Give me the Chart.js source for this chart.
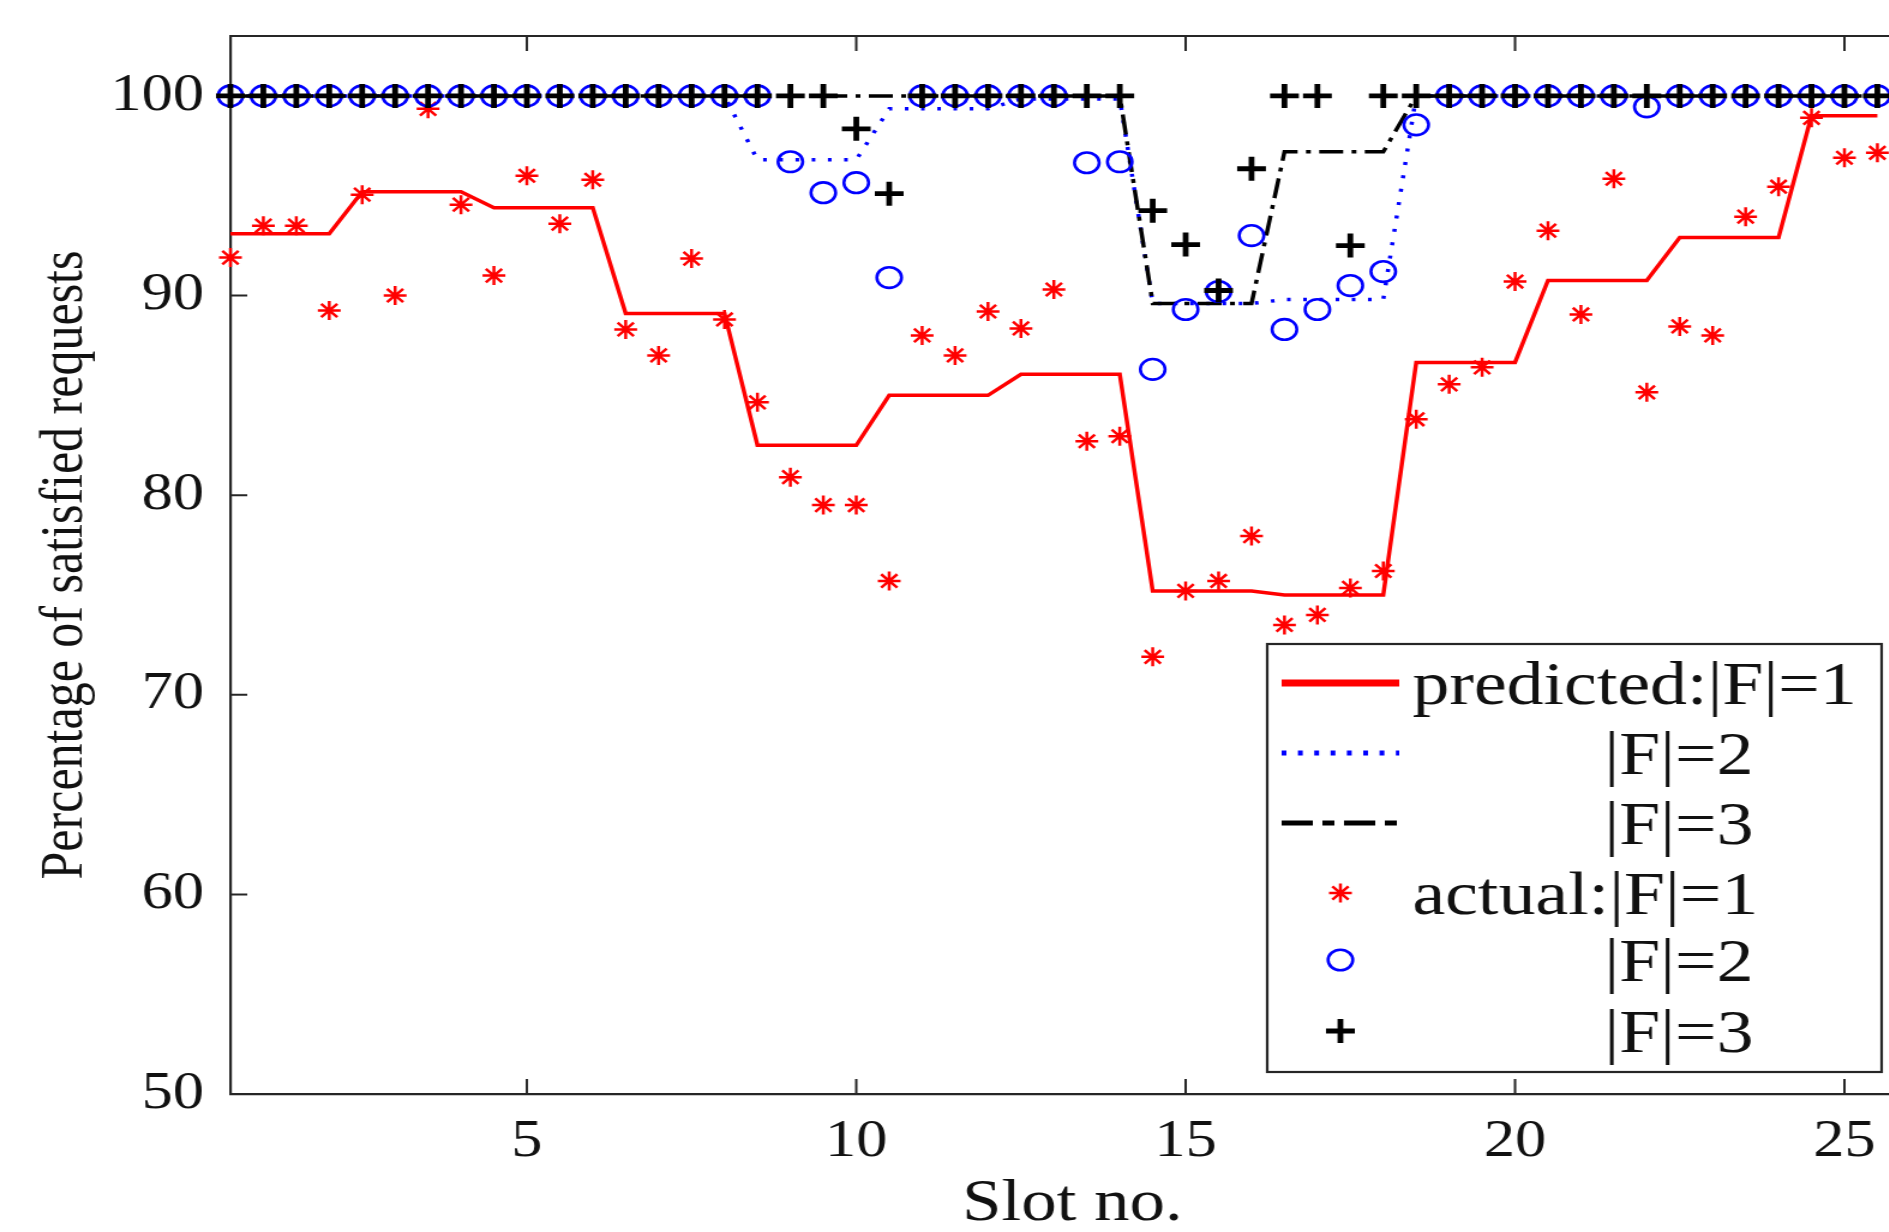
<!DOCTYPE html>
<html>
<head>
<meta charset="utf-8">
<script src="https://cdn.jsdelivr.net/npm/chart.js@4.4.1/dist/chart.umd.min.js"></script>
<style>
  html, body { margin: 0; padding: 0; background: #ffffff; overflow: hidden; }
  #wrap { width: 1889px; height: 1232px; overflow: hidden; position: relative; background: #fff; }
  #c { display: block; transform: scaleX(1.2); transform-origin: 0 0; }
</style>
</head>
<body>
<div id="wrap"><canvas id="c" width="1612" height="1232"></canvas></div>
<script>
// ---------------- data ----------------
const slots = [0.5, 1, 1.5, 2, 2.5, 3, 3.5, 4, 4.5, 5, 5.5, 6, 6.5, 7, 7.5, 8, 8.5, 9, 9.5, 10,
  10.5, 11, 11.5, 12, 12.5, 13, 13.5, 14, 14.5, 15, 15.5, 16, 16.5, 17, 17.5, 18, 18.5, 19, 19.5, 20,
  20.5, 21, 21.5, 22, 22.5, 23, 23.5, 24, 24.5, 25, 25.5];

const predictedF1 = [93.1, 93.1, 93.1, 93.1, 95.2, 95.2, 95.2, 95.2, 94.4, 94.4, 94.4, 94.4,
  89.1, 89.1, 89.1, 89.1, 82.5, 82.5, 82.5, 82.5, 85.0, 85.0, 85.0, 85.0, 86.05, 86.05, 86.05, 86.05,
  75.2, 75.2, 75.2, 75.2, 75.0, 75.0, 75.0, 75.0, 86.65, 86.65, 86.65, 86.65, 90.75, 90.75, 90.75, 90.75,
  92.9, 92.9, 92.9, 92.9, 99.0, 99.0, 99.0];

const predictedF2 = [100, 100, 100, 100, 100, 100, 100, 100, 100, 100, 100, 100, 100, 100, 100, 100,
  96.8, 96.8, 96.8, 96.8, 99.35, 99.35, 99.35, 99.35, 99.85, 99.85, 99.85, 99.85,
  89.6, 89.6, 89.6, 89.6, 89.8, 89.8, 89.8, 89.8,
  100, 100, 100, 100, 100, 100, 100, 100, 100, 100, 100, 100, 100, 100, 100];

const predictedF3 = [100, 100, 100, 100, 100, 100, 100, 100, 100, 100, 100, 100, 100, 100,
  100, 100, 100, 100, 100, 100, 100, 100, 100, 100, 100, 100, 100, 100,
  89.6, 89.6, 89.6, 89.6, 97.2, 97.2, 97.2, 97.2,
  100, 100, 100, 100, 100, 100, 100, 100, 100, 100, 100, 100, 100, 100, 100];

const actualF1 = [91.9, 93.5, 93.5, 89.25, 95.05, 90.0, 99.35, 94.55, 91.0, 96.0, 93.6, 95.8,
  88.3, 87.0, 91.85, 88.8, 84.65, 80.9, 79.5, 79.5, 75.7, 88.0, 87.0, 89.2, 88.35, 90.3, 82.7, 82.95,
  71.9, 75.2, 75.7, 77.95, 73.5, 74.0, 75.35, 76.2, 83.8, 85.55, 86.4, 90.7, 93.25, 89.05, 95.85, 85.15,
  88.45, 88.0, 93.95, 95.45, 98.9, 96.9, 97.15];

const actualF2 = [100, 100, 100, 100, 100, 100, 100, 100, 100, 100, 100, 100, 100, 100, 100, 100, 100,
  96.7, 95.15, 95.65, 90.9, 100, 100, 100, 100, 100, 96.65, 96.7,
  86.3, 89.3, 90.2, 93.0, 88.3, 89.3, 90.5, 91.2, 98.55,
  100, 100, 100, 100, 100, 100, 99.45, 100, 100, 100, 100, 100, 100, 100];

const actualF3 = [100, 100, 100, 100, 100, 100, 100, 100, 100, 100, 100, 100, 100, 100, 100, 100, 100, 100, 100,
  98.35, 95.1, 100, 100, 100, 100, 100, 100, 100,
  94.25, 92.55, 90.25, 96.35, 100, 100, 92.5,
  100, 100, 100, 100, 100, 100, 100, 100, 100, 100, 100, 100, 100, 100, 100, 100];

const xTicks = [5, 10, 15, 20, 25];
const yTicks = [50, 60, 70, 80, 90, 100];
const xTitle = 'Slot no.';
const yTitle = 'Percentage of satisfied requests';
const seriesNames = ['predicted:|F|=1', '|F|=2', '|F|=3', 'actual:|F|=1', '|F|=2', '|F|=3'];

// ---------------- styling ----------------
const SERIF = "'Liberation Serif', 'Times New Roman', serif";
const AXIS_COLOR = '#262626';
const TEXT_COLOR = '#111111';
const RED = '#ff0000', BLUE = '#0000ff', BLACK = '#000000';

const toPoints = (ys) => slots.map((x, i) => ({ x: x, y: ys[i] }));

const lineStyles = [
  { color: RED, width: 3.5, dash: [] },
  { color: BLUE, width: 3.5, dash: [3, 10.5] },
  { color: BLACK, width: 3.5, dash: [20, 7, 4, 7] }
];
const markerStyles = [
  { color: RED, style: 'star', radius: 9.5, width: 2.5 },
  { color: BLUE, style: 'circle', radius: 10.3, width: 2.6 },
  { color: BLACK, style: 'cross', radius: 12, width: 4.8 }
];

const lineSeries = [predictedF1, predictedF2, predictedF3];
const markerSeries = [actualF1, actualF2, actualF3];

const datasets = [];
lineSeries.forEach((s, i) => {
  const st = lineStyles[i];
  datasets.push({
    label: seriesNames[i], data: toPoints(s), type: 'line', showLine: true,
    borderColor: st.color, backgroundColor: st.color, borderWidth: st.width,
    borderDash: st.dash, pointRadius: 0, tension: 0, fill: false, order: 6 - i, clip: false
  });
});
markerSeries.forEach((s, i) => {
  const st = markerStyles[i];
  datasets.push({
    label: seriesNames[3 + i], data: toPoints(s), type: 'line', showLine: false,
    borderColor: st.color, backgroundColor: 'rgba(0,0,0,0)', pointBorderColor: st.color,
    pointBackgroundColor: 'rgba(0,0,0,0)', pointStyle: st.style, pointRadius: st.radius,
    pointBorderWidth: st.width, order: 3 - i, clip: false
  });
});

// frame: top border + inward tick marks
const framePlugin = {
  id: 'frame',
  beforeDatasetsDraw(chart) {
    const { ctx, chartArea: a, scales } = chart;
    const x = scales.x, y = scales.y;
    ctx.save();
    ctx.strokeStyle = AXIS_COLOR;
    ctx.lineWidth = 2.2;
    ctx.beginPath();
    ctx.moveTo(a.left, a.top);
    ctx.lineTo(a.right + 10, a.top);
    ctx.stroke();
    ctx.lineWidth = 2;
    ctx.beginPath();
    xTicks.forEach(v => {
      const px = x.getPixelForValue(v);
      ctx.moveTo(px, a.bottom); ctx.lineTo(px, a.bottom - 15);
      ctx.moveTo(px, a.top); ctx.lineTo(px, a.top + 15);
    });
    yTicks.forEach(v => {
      const py = y.getPixelForValue(v);
      ctx.moveTo(a.left, py); ctx.lineTo(a.left + 14, py);
    });
    ctx.stroke();
    ctx.restore();
  }
};

// boxed legend inside the plot area (bottom right)
const legendPlugin = {
  id: 'boxLegend',
  afterDraw(chart) {
    const ctx = chart.ctx;
    const box = { l: 1056, t: 644, r: 1568, b: 1072 };
    const rowY = [683, 753, 823, 893, 960, 1031];
    const textX = [1177, 1337, 1337, 1177, 1337, 1337];
    ctx.save();
    ctx.fillStyle = '#ffffff';
    ctx.fillRect(box.l, box.t, box.r - box.l, box.b - box.t);
    ctx.strokeStyle = AXIS_COLOR;
    ctx.lineWidth = 2.2;
    ctx.strokeRect(box.l, box.t, box.r - box.l, box.b - box.t);

    const legDash = [[], [4, 9.6], [26, 8, 10, 8]];
    const legW = [7, 5, 5];
    for (let i = 0; i < 3; i++) {
      ctx.beginPath();
      ctx.strokeStyle = lineStyles[i].color;
      ctx.lineWidth = legW[i];
      ctx.setLineDash(legDash[i]);
      ctx.moveTo(1068, rowY[i]);
      ctx.lineTo(1166, rowY[i]);
      ctx.stroke();
    }
    ctx.setLineDash([]);
    for (let i = 0; i < 3; i++) {
      const st = markerStyles[i];
      ctx.strokeStyle = st.color;
      ctx.fillStyle = 'rgba(0,0,0,0)';
      ctx.lineWidth = st.width;
      Chart.helpers.drawPoint(ctx, { pointStyle: st.style, radius: st.radius, rotation: 0, borderWidth: st.width }, 1117, rowY[3 + i]);
    }
    ctx.fillStyle = TEXT_COLOR;
    ctx.font = '61.5px ' + SERIF;
    ctx.textAlign = 'left';
    ctx.textBaseline = 'alphabetic';
    for (let i = 0; i < 6; i++) {
      ctx.fillText(seriesNames[i], textX[i], rowY[i] + 21);
    }
    ctx.restore();
  }
};

new Chart(document.getElementById('c'), {
  type: 'line',
  data: { datasets: datasets },
  options: {
    responsive: false,
    animation: false,
    devicePixelRatio: 1,
    layout: { padding: { top: 36, right: 0, bottom: 0, left: 0 } },
    plugins: { legend: { display: false }, tooltip: { enabled: false } },
    scales: {
      x: {
        type: 'linear', min: 0.5, max: 26.06,
        grid: { display: false, drawTicks: false, tickLength: 0 },
        border: { display: true, color: AXIS_COLOR, width: 2.2 },
        afterBuildTicks: (scale) => { scale.ticks = xTicks.map(v => ({ value: v })); },
        afterFit: (scale) => { scale.height = 138; scale.paddingLeft = 0; scale.paddingRight = 0; scale.paddingTop = 0; scale.paddingBottom = 0; },
        ticks: { color: TEXT_COLOR, font: { family: SERIF, size: 52 }, padding: 17, maxRotation: 0, autoSkip: false },
        title: { display: true, text: xTitle, color: TEXT_COLOR, font: { family: SERIF, size: 59, lineHeight: 0.9 }, padding: { top: 0, bottom: 1 } }
      },
      y: {
        type: 'linear', min: 50, max: 103,
        grid: { display: false, drawTicks: false, tickLength: 0 },
        border: { display: true, color: AXIS_COLOR, width: 2.2 },
        afterBuildTicks: (scale) => { scale.ticks = yTicks.map(v => ({ value: v })); },
        afterFit: (scale) => { scale.width = 192; scale.paddingLeft = 0; scale.paddingRight = 0; scale.paddingTop = 0; scale.paddingBottom = 0; },
        ticks: { color: TEXT_COLOR, font: { family: SERIF, size: 52 }, padding: 22, autoSkip: false },
        title: { display: true, text: yTitle, color: TEXT_COLOR, font: { family: SERIF, size: 50, lineHeight: 1.2 }, padding: { top: 25, bottom: 0 } }
      }
    }
  },
  plugins: [framePlugin, legendPlugin]
});
</script>
</body>
</html>
